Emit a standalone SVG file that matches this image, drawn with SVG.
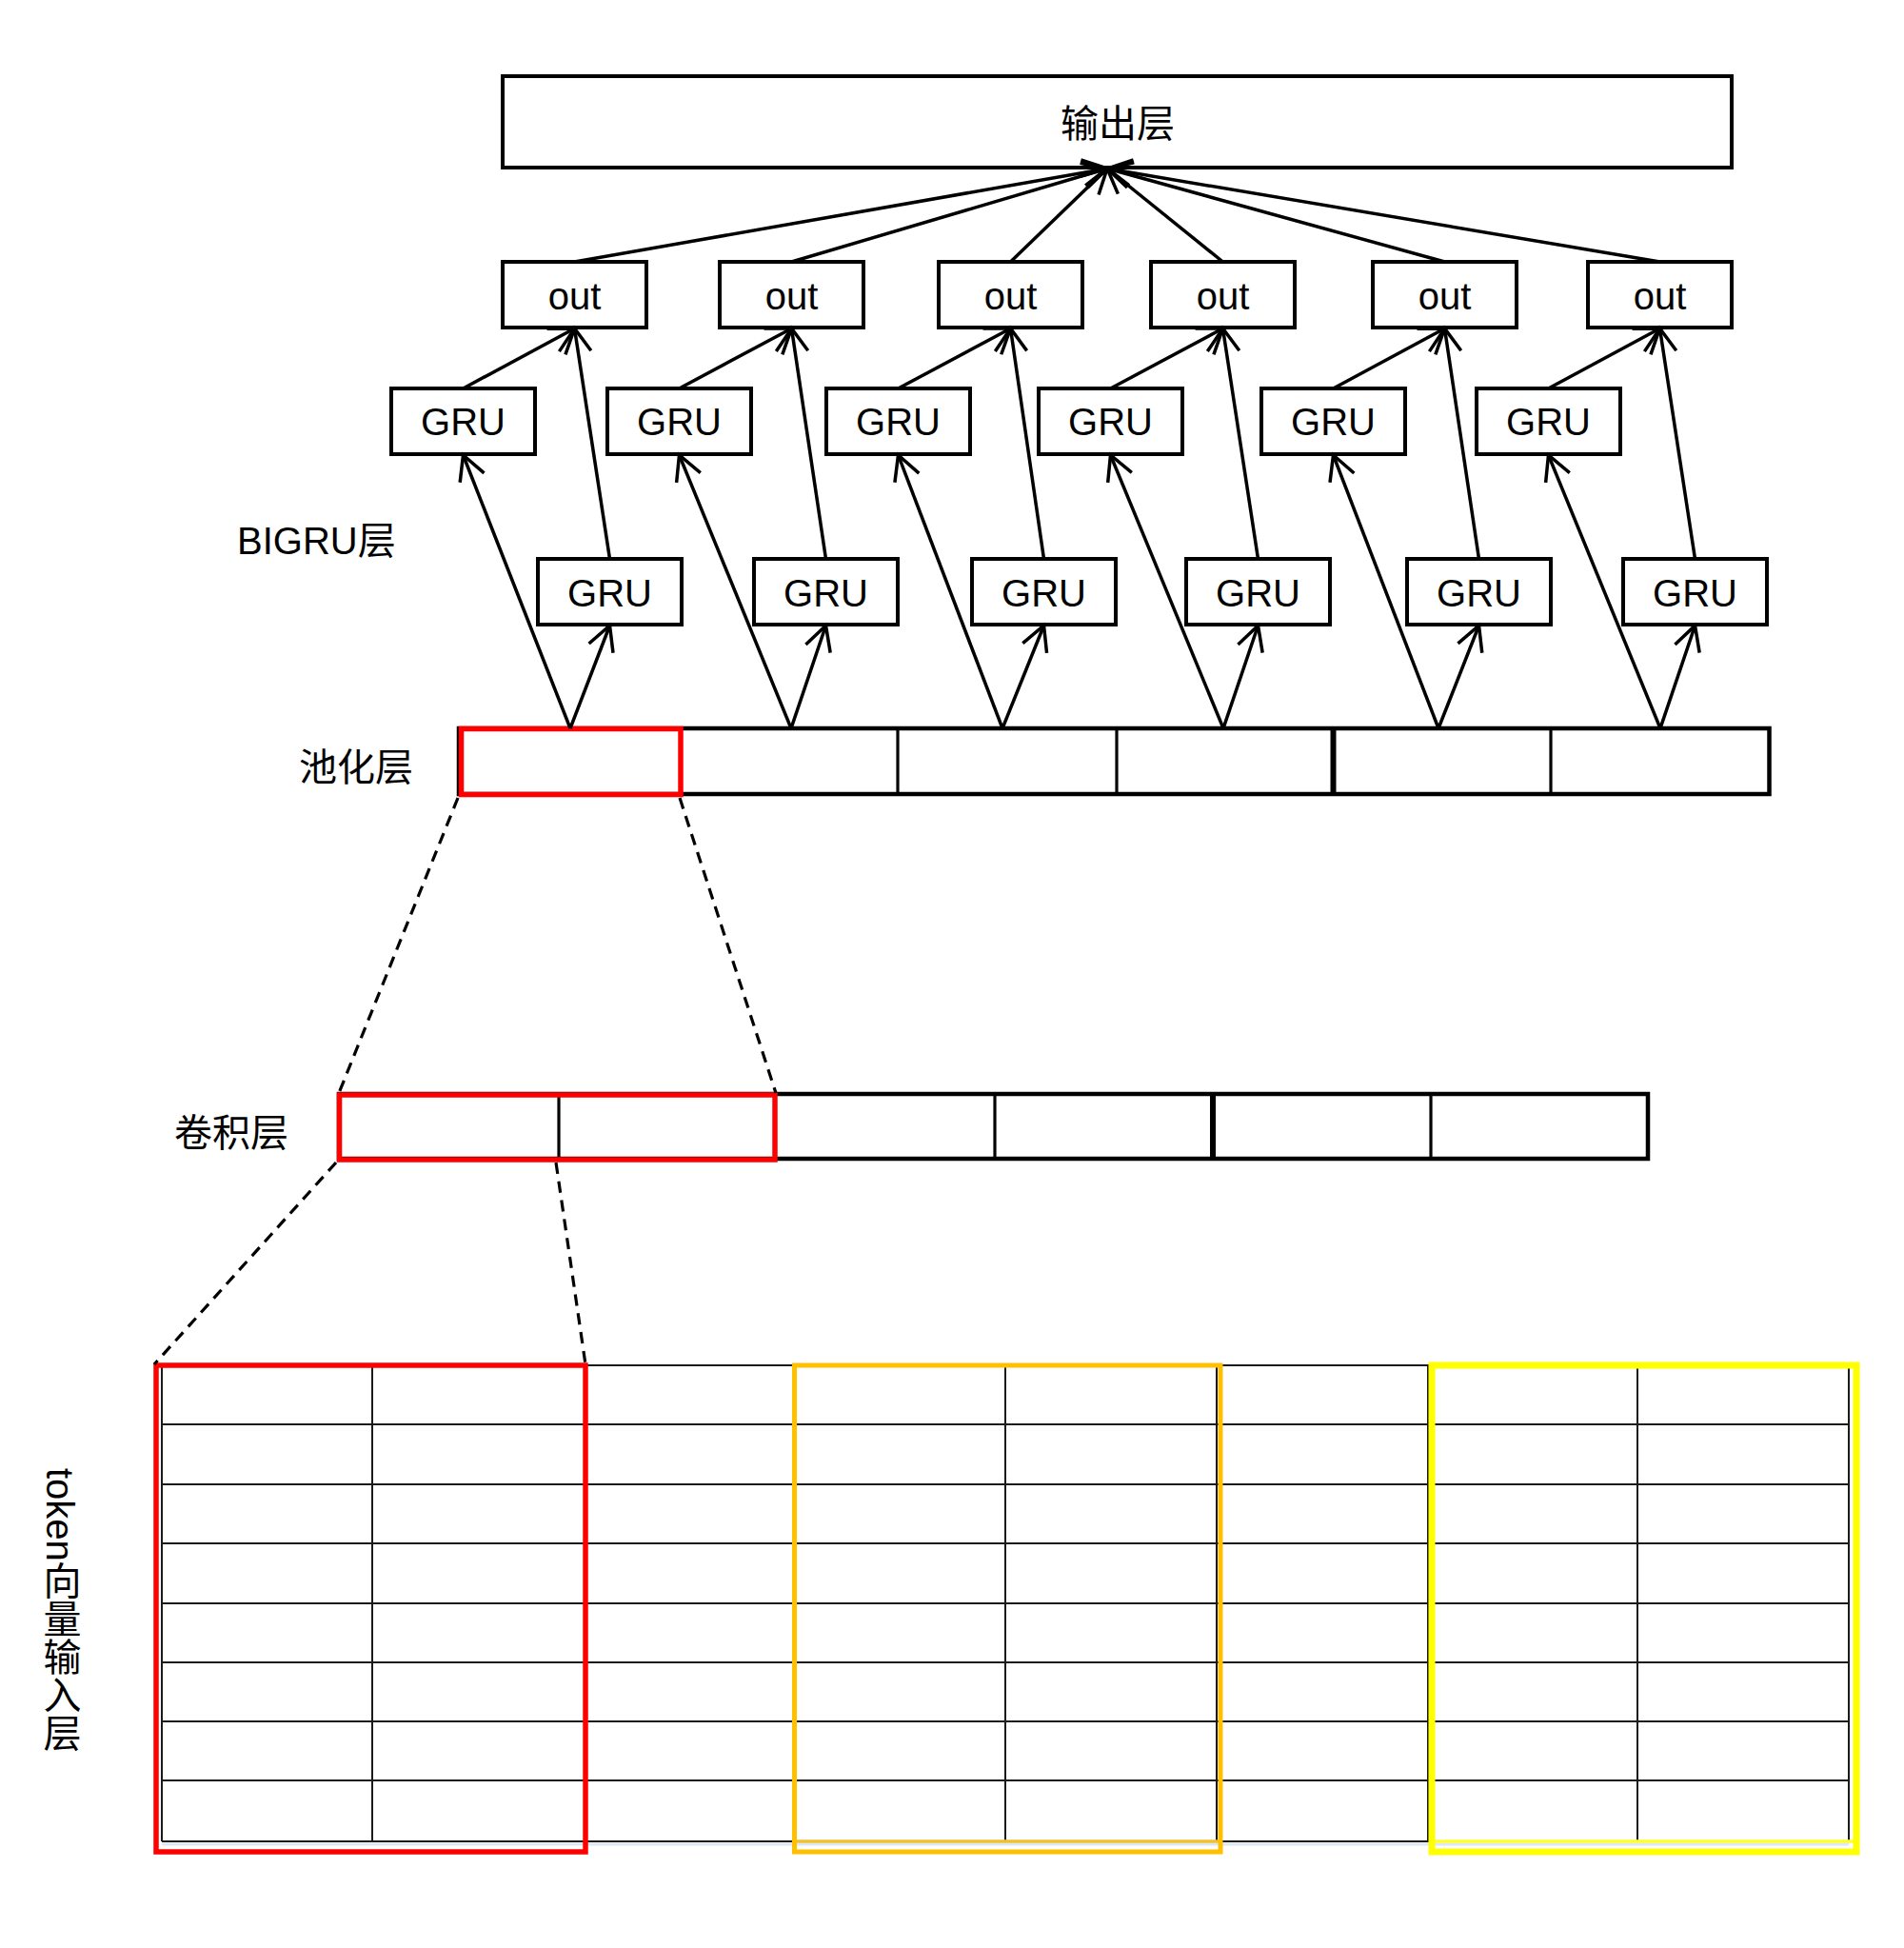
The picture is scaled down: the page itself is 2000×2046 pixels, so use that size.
<svg xmlns="http://www.w3.org/2000/svg" width="2000" height="2046" viewBox="0 0 2000 2046">
<style>
text{font-family:"Liberation Sans","Noto Sans CJK SC",sans-serif;font-size:40px;fill:#000}
.box{fill:#fff;stroke:#000;stroke-width:4}
.c{text-anchor:middle}
.arr{fill:none;stroke:#000;stroke-width:3.5;marker-end:url(#ah)}
.dash{fill:none;stroke:#000;stroke-width:3.2;stroke-dasharray:12 8}
.cell{fill:none;stroke:#000;stroke-width:3.2}
.outer{fill:none;stroke:#000;stroke-width:4.5}
.thick{fill:none;stroke:#000;stroke-width:6}
.grid{stroke:#1a1a1a;stroke-width:2}
</style>
<defs>
<marker id="ah" markerUnits="userSpaceOnUse" viewBox="-32 -18 36 36" markerWidth="36" markerHeight="36" refX="0" refY="0" orient="auto" overflow="visible">
<path d="M-25.6,-13.6 L0,0 L-25.6,13.6" fill="none" stroke="#000" stroke-width="3.5"/>
</marker>
</defs>
<rect width="2000" height="2046" fill="#fff"/>

<g id="output-layer"><rect class="box" x="528" y="80" width="1291" height="96"/><text class="c" x="1174" y="144">输出层</text></g>

<g id="out1"><rect class="box" x="528" y="275" width="151" height="69"/><text class="c" x="603.5" y="325">out</text></g>
<g id="out2"><rect class="box" x="756" y="275" width="151" height="69"/><text class="c" x="831.5" y="325">out</text></g>
<g id="out3"><rect class="box" x="986" y="275" width="151" height="69"/><text class="c" x="1061.5" y="325">out</text></g>
<g id="out4"><rect class="box" x="1209" y="275" width="151" height="69"/><text class="c" x="1284.5" y="325">out</text></g>
<g id="out5"><rect class="box" x="1442" y="275" width="151" height="69"/><text class="c" x="1517.5" y="325">out</text></g>
<g id="out6"><rect class="box" x="1668" y="275" width="151" height="69"/><text class="c" x="1743.5" y="325">out</text></g>

<g id="gru-f1"><rect class="box" x="411" y="408" width="151" height="69"/><text class="c" x="486.5" y="457">GRU</text></g>
<g id="gru-f2"><rect class="box" x="638" y="408" width="151" height="69"/><text class="c" x="713.5" y="457">GRU</text></g>
<g id="gru-f3"><rect class="box" x="868" y="408" width="151" height="69"/><text class="c" x="943.5" y="457">GRU</text></g>
<g id="gru-f4"><rect class="box" x="1091" y="408" width="151" height="69"/><text class="c" x="1166.5" y="457">GRU</text></g>
<g id="gru-f5"><rect class="box" x="1325" y="408" width="151" height="69"/><text class="c" x="1400.5" y="457">GRU</text></g>
<g id="gru-f6"><rect class="box" x="1551" y="408" width="151" height="69"/><text class="c" x="1626.5" y="457">GRU</text></g>

<g id="gru-b1"><rect class="box" x="565" y="587" width="151" height="69"/><text class="c" x="640.5" y="637">GRU</text></g>
<g id="gru-b2"><rect class="box" x="792" y="587" width="151" height="69"/><text class="c" x="867.5" y="637">GRU</text></g>
<g id="gru-b3"><rect class="box" x="1021" y="587" width="151" height="69"/><text class="c" x="1096.5" y="637">GRU</text></g>
<g id="gru-b4"><rect class="box" x="1246" y="587" width="151" height="69"/><text class="c" x="1321.5" y="637">GRU</text></g>
<g id="gru-b5"><rect class="box" x="1478" y="587" width="151" height="69"/><text class="c" x="1553.5" y="637">GRU</text></g>
<g id="gru-b6"><rect class="box" x="1705" y="587" width="151" height="69"/><text class="c" x="1780.5" y="637">GRU</text></g>

<g id="labels">
<text x="249" y="582">BIGRU层</text>
<text x="314" y="820">池化层</text>
<text x="183" y="1204">卷积层</text>
<text x="62.5" y="1542" style="writing-mode:vertical-rl">token向量输入层</text>
</g>

<g id="pooling-layer">
<rect class="outer" x="482" y="765" width="1376.5" height="69"/>
<line class="cell" x1="943" y1="765" x2="943" y2="834"/>
<line class="cell" x1="1173" y1="765" x2="1173" y2="834"/>
<line class="thick" x1="1400.5" y1="765" x2="1400.5" y2="834"/>
<line class="cell" x1="1629" y1="765" x2="1629" y2="834"/>
<rect x="484.5" y="765.5" width="230.5" height="69" fill="none" stroke="#f00" stroke-width="5.5"/>
</g>

<g id="conv-layer">
<rect class="outer" x="356" y="1149" width="1375" height="68"/>
<line class="cell" x1="587" y1="1149" x2="587" y2="1217"/>
<line class="cell" x1="1045" y1="1149" x2="1045" y2="1217"/>
<line class="thick" x1="1274" y1="1149" x2="1274" y2="1217"/>
<line class="cell" x1="1503" y1="1149" x2="1503" y2="1217"/>
<rect x="356.5" y="1150" width="457.5" height="68" fill="none" stroke="#f00" stroke-width="5.5"/>
</g>

<g id="token-grid">
<line x1="170" y1="1937" x2="1942" y2="1937" stroke="#dce8f4" stroke-width="3"/>
<g class="grid">
<line x1="170" y1="1434" x2="1942" y2="1434"/>
<line x1="170" y1="1496" x2="1942" y2="1496"/>
<line x1="170" y1="1559" x2="1942" y2="1559"/>
<line x1="170" y1="1621" x2="1942" y2="1621"/>
<line x1="170" y1="1684" x2="1942" y2="1684"/>
<line x1="170" y1="1746" x2="1942" y2="1746"/>
<line x1="170" y1="1808" x2="1942" y2="1808"/>
<line x1="170" y1="1870" x2="1942" y2="1870"/>
<line x1="170" y1="1934" x2="1942" y2="1934"/>
<line x1="170" y1="1434" x2="170" y2="1934"/>
<line x1="391" y1="1434" x2="391" y2="1934"/>
<line x1="614" y1="1434" x2="614" y2="1934"/>
<line x1="835" y1="1434" x2="835" y2="1934"/>
<line x1="1056" y1="1434" x2="1056" y2="1934"/>
<line x1="1278" y1="1434" x2="1278" y2="1934"/>
<line x1="1500" y1="1434" x2="1500" y2="1934"/>
<line x1="1720" y1="1434" x2="1720" y2="1934"/>
<line x1="1942" y1="1434" x2="1942" y2="1934"/>
</g>
<rect x="164" y="1434" width="451" height="511" fill="none" stroke="#f00" stroke-width="5.5"/>
<line x1="834.5" y1="1934" x2="1282" y2="1934" stroke="#f0c030" stroke-width="3.5"/>
<rect x="834.5" y="1434" width="447.5" height="511" fill="none" stroke="#ffc000" stroke-width="5"/>
<line x1="1504" y1="1934" x2="1950" y2="1934" stroke="#ffff30" stroke-width="3.5"/>
<rect x="1504" y="1434" width="446" height="511" fill="none" stroke="#ffff00" stroke-width="7"/>
</g>

<g id="connectors">
<line class="arr" x1="603.5" y1="275" x2="1163" y2="177"/>
<line class="arr" x1="831.5" y1="275" x2="1163" y2="177"/>
<line class="arr" x1="1061.5" y1="275" x2="1163" y2="177"/>
<line class="arr" x1="1284.5" y1="275" x2="1163" y2="177"/>
<line class="arr" x1="1517.5" y1="275" x2="1163" y2="177"/>
<line class="arr" x1="1743.5" y1="275" x2="1163" y2="177"/>

<line class="arr" x1="486.5" y1="408" x2="603.5" y2="345"/>
<line class="arr" x1="640.5" y1="587" x2="603.5" y2="345"/>
<line class="arr" x1="713.5" y1="408" x2="831.5" y2="345"/>
<line class="arr" x1="867.5" y1="587" x2="831.5" y2="345"/>
<line class="arr" x1="943.5" y1="408" x2="1061.5" y2="345"/>
<line class="arr" x1="1096.5" y1="587" x2="1061.5" y2="345"/>
<line class="arr" x1="1166.5" y1="408" x2="1284.5" y2="345"/>
<line class="arr" x1="1321.5" y1="587" x2="1284.5" y2="345"/>
<line class="arr" x1="1400.5" y1="408" x2="1517.5" y2="345"/>
<line class="arr" x1="1553.5" y1="587" x2="1517.5" y2="345"/>
<line class="arr" x1="1626.5" y1="408" x2="1743.5" y2="345"/>
<line class="arr" x1="1780.5" y1="587" x2="1743.5" y2="345"/>

<line class="arr" x1="599" y1="765" x2="486.5" y2="478"/>
<line class="arr" x1="599" y1="765" x2="640.5" y2="657"/>
<line class="arr" x1="831" y1="765" x2="713.5" y2="478"/>
<line class="arr" x1="831" y1="765" x2="867.5" y2="657"/>
<line class="arr" x1="1053" y1="765" x2="943.5" y2="478"/>
<line class="arr" x1="1053" y1="765" x2="1096.5" y2="657"/>
<line class="arr" x1="1285" y1="765" x2="1166.5" y2="478"/>
<line class="arr" x1="1285" y1="765" x2="1321.5" y2="657"/>
<line class="arr" x1="1511" y1="765" x2="1400.5" y2="478"/>
<line class="arr" x1="1511" y1="765" x2="1553.5" y2="657"/>
<line class="arr" x1="1744" y1="765" x2="1626.5" y2="478"/>
<line class="arr" x1="1744" y1="765" x2="1780.5" y2="657"/>

<line class="dash" x1="481" y1="838" x2="356" y2="1148"/>
<line class="dash" x1="714" y1="838" x2="815" y2="1148"/>
<line class="dash" x1="353" y1="1221" x2="162" y2="1433"/>
<line class="dash" x1="584" y1="1221" x2="615" y2="1433"/>
</g>
</svg>
